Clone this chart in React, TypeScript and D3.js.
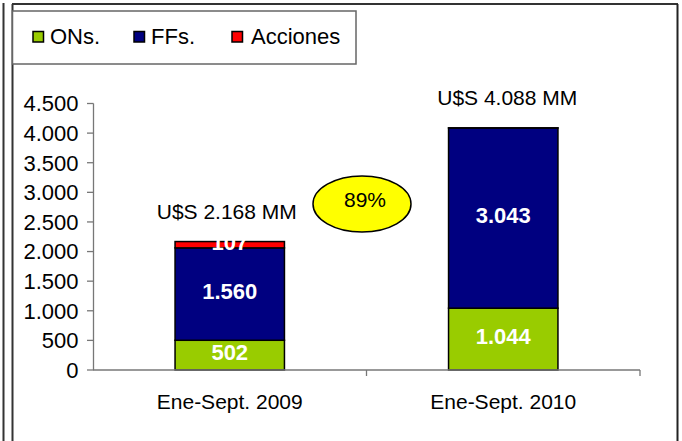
import React from "react";
import * as d3 from "d3";

const categories = ["Ene-Sept. 2009", "Ene-Sept. 2010"];
const seriesNames = ["ONs.", "FFs.", "Acciones"];
const seriesColors = ["#99CC00", "#000080", "#FF0000"];
const onsValues = [502, 1044];
const ffsValues = [1560, 3043];
const accionesValues = [107, 1];
const totalLabels = ["U$S 2.168 MM", "U$S 4.088 MM"];
const valueLabels = [["502", "1.044"], ["1.560", "3.043"], ["107", ""]];
const yTicks = [0, 500, 1000, 1500, 2000, 2500, 3000, 3500, 4000, 4500];
const growthLabel = "89%";

const W = 682;
const H = 441;
const FONT = "'Liberation Sans', Arial, Helvetica, sans-serif";

export default function App() {
  const x = d3.scaleBand().domain(categories).range([93, 640]).paddingInner(0).paddingOuter(0);
  const y = d3.scaleLinear().domain([0, 4500]).range([370, 103.5]);
  const barW = x.bandwidth() / 2.5;
  const fmt = (v: number) => d3.format(",")(v).replace(/,/g, ".");

  const rows = categories.map((c, i) => ({ cat: c, vals: [onsValues[i], ffsValues[i], accionesValues[i]] }));
  const stack = d3.stack<any>().keys([0, 1, 2] as any).value((d: any, k: any) => d.vals[k]);
  const stacked = stack(rows as any);

  const legendItems = [
    { sx: 33, tx: 50 },
    { sx: 134, tx: 151 },
    { sx: 232, tx: 251 },
  ];

  return (
    <svg width={W} height={H} style={{ position: "fixed", left: 0, top: 0, background: "#fff" }} fontFamily={FONT}>
      <rect x={0} y={0} width={W} height={H} fill="#fff" />
      {/* frame */}
      <line x1={3.5} y1={3} x2={3.5} y2={H} stroke="#333" strokeWidth={2} />
      <line x1={12.5} y1={4} x2={12.5} y2={H} stroke="#333" strokeWidth={2} />
      <line x1={12} y1={4} x2={678} y2={4} stroke="#333" strokeWidth={2} />
      <line x1={677.5} y1={4} x2={677.5} y2={H} stroke="#222" strokeWidth={2} />
      {/* legend box */}
      <rect x={12.5} y={11} width={343.5} height={53} fill="#fff" stroke="#666" strokeWidth={1.5} />
      {seriesNames.map((n, i) => (
        <g key={n}>
          <rect x={legendItems[i].sx} y={31.5} width={10.5} height={10.5} fill={seriesColors[i]} stroke="#000" strokeWidth={1.5} />
          <text x={legendItems[i].tx} y={44} fontSize={22} fill="#000">{n}</text>
        </g>
      ))}
      {/* y axis */}
      <line x1={93.5} y1={y(4500)} x2={93.5} y2={y(0)} stroke="#777" strokeWidth={1.3} />
      {yTicks.map((t) => (
        <g key={t}>
          <line x1={87} x2={93.5} y1={y(t)} y2={y(t)} stroke="#777" strokeWidth={1.3} />
          <text x={78.5} y={y(t)} dy="0.36em" textAnchor="end" fontSize={22} fill="#000">{fmt(t)}</text>
        </g>
      ))}
      {/* bars */}
      {stacked.map((s, si) =>
        s.map((d, ci) => {
          const cx = (x(categories[ci]) as number) + x.bandwidth() / 2;
          return (
            <rect key={si + "-" + ci} x={cx - barW / 2} y={y(d[1])} width={barW} height={y(d[0]) - y(d[1])}
              fill={seriesColors[si]} stroke="#000" strokeWidth={1.5} />
          );
        })
      )}
      {/* x axis */}
      <line x1={93} x2={640} y1={370} y2={370} stroke="#777" strokeWidth={1.3} />
      {categories.map((c, i) => (
        <line key={c} x1={(x(c) as number) + x.bandwidth()} x2={(x(c) as number) + x.bandwidth()} y1={370} y2={376} stroke="#777" strokeWidth={1.3} />
      ))}
      {/* value labels */}
      {stacked.map((s, si) =>
        s.map((d, ci) => {
          const cx = (x(categories[ci]) as number) + x.bandwidth() / 2;
          const lbl = valueLabels[si][ci];
          if (!lbl) return null;
          return (
            <text key={"l" + si + "-" + ci} x={cx} y={(y(d[0]) + y(d[1])) / 2} dy="0.24em" textAnchor="middle"
              fontSize={22} fontWeight="bold" fill="#fff">{lbl}</text>
          );
        })
      )}
      {/* category labels */}
      {categories.map((c) => (
        <text key={c} x={(x(c) as number) + x.bandwidth() / 2} y={409} textAnchor="middle" fontSize={21} fill="#000">{c}</text>
      ))}
      {/* totals */}
      {categories.map((c, i) => {
        const total = onsValues[i] + ffsValues[i] + accionesValues[i];
        return (
          <text key={"t" + c} x={(x(c) as number) + x.bandwidth() / 2 - (i === 0 ? 3 : -4)} y={y(total) - 23} textAnchor="middle" fontSize={21} fill="#000">{totalLabels[i]}</text>
        );
      })}
      {/* growth ellipse */}
      <ellipse cx={362} cy={204} rx={49} ry={28} fill="#FFFF00" stroke="#000" strokeWidth={1.5} />
      <text x={365} y={207} textAnchor="middle" fontSize={21} fill="#000">{growthLabel}</text>
    </svg>
  );
}
